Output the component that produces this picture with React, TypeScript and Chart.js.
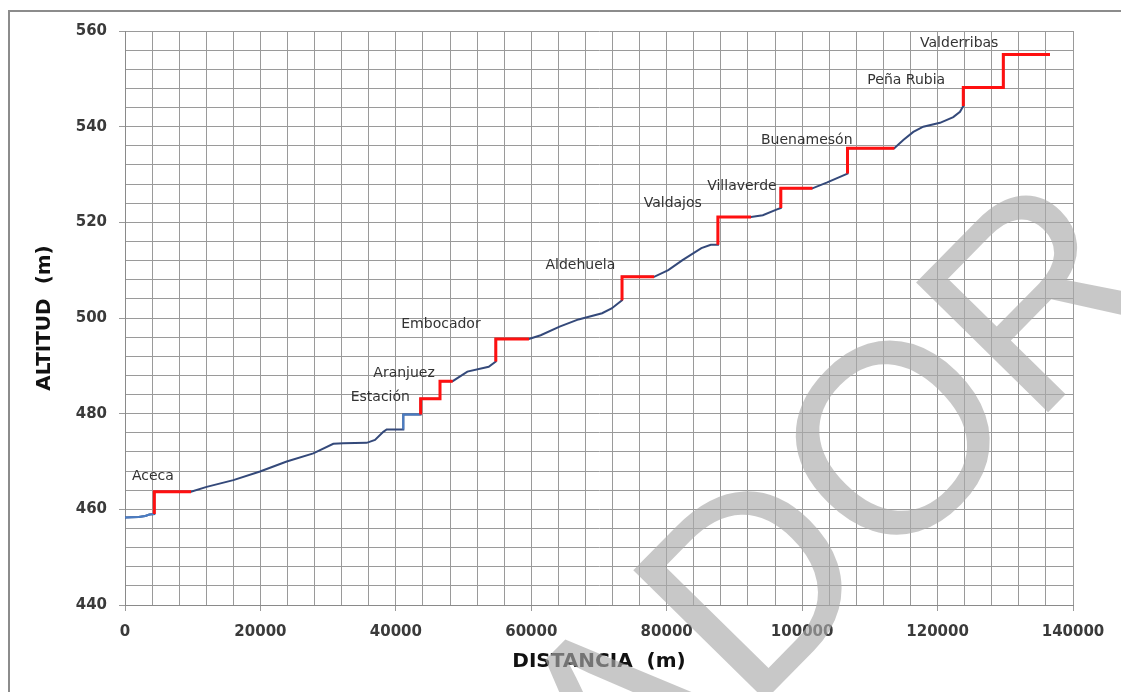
import React, { useEffect, useRef } from "react";
import { Chart, registerables } from "chart.js";

Chart.register(...registerables);

// Full altitude profile (distance in m, altitude in m)
const profileDist = [
  0, 2000, 3000, 3600, 4330, 4330, 9750, 12060, 16000, 19940, 23880, 27810,
  30760, 32240, 35690, 36920, 38150, 38640, 41100, 41100, 43660, 43660, 46520,
  46520, 48390, 50560, 53710, 54760, 54760, 59650, 61390, 64180, 66970, 70460,
  71860, 73400, 73400, 78140, 80230, 82330, 85120, 86510, 87560, 87560, 92450,
  94190, 96290, 96850, 96850, 101520, 103620, 105590, 106700, 106700, 113610,
  114940, 116420, 117890, 120360, 122320, 123310, 123800, 123800, 129710,
  129710, 136600,
];
const profileAlt = [
  458.3, 458.4, 458.6, 458.9, 459.0, 463.7, 463.7, 464.7, 466.1, 467.9, 470.0,
  471.7, 473.7, 473.8, 473.9, 474.5, 476.2, 476.7, 476.7, 479.8, 479.8, 483.1,
  483.1, 486.8, 486.8, 488.8, 489.8, 490.9, 495.6, 495.6, 496.4, 498.2, 499.7,
  501.0, 502.0, 503.7, 508.6, 508.6, 510.0, 512.1, 514.6, 515.3, 515.3, 521.1,
  521.1, 521.5, 522.7, 523.0, 527.1, 527.1, 528.3, 529.5, 530.2, 535.5, 535.5,
  537.2, 538.9, 540.0, 540.8, 542.0, 543.1, 544.3, 548.2, 548.2, 555.1, 555.1,
];

// Red step segments (null = break)
const stepDist = [
  4330, 4330, 9750, 9750,
  43660, 43660, 46520, 46520, 48390, 48390,
  54760, 54760, 59650, 59650,
  73400, 73400, 78140, 78140,
  87560, 87560, 92450, 92450,
  96850, 96850, 101520, 101520,
  106700, 106700, 113610, 113610,
  123800, 123800, 129710, 129710, 136600,
];
const stepAlt = [
  459.0, 463.7, 463.7, null,
  479.8, 483.1, 483.1, 486.8, 486.8, null,
  490.9, 495.6, 495.6, null,
  503.7, 508.6, 508.6, null,
  515.3, 521.1, 521.1, null,
  523.0, 527.1, 527.1, null,
  530.2, 535.5, 535.5, null,
  544.3, 548.2, 548.2, 555.1, 555.1,
];

// Light-blue pieces
const lightDist = [0, 2000, 3000, 3600, 4330, 4330, 41100, 41100, 43660];
const lightAlt = [458.3, 458.4, 458.6, 458.9, 459.0, null, 476.7, 479.8, 479.8];

// Station labels (left edge / vertical centre of text, in data units)
const stationNames = [
  "Aceca", "Estación", "Aranjuez", "Embocador", "Aldehuela", "Valdajos",
  "Villaverde", "Buenamesón", "Peña Rubia", "Valderribas",
];
const stationDist = [1030, 33330, 36670, 40800, 62100, 76600, 85980, 93920, 109630, 117410];
const stationAlt = [466.9, 483.5, 488.5, 498.7, 511.0, 523.9, 527.6, 537.2, 549.6, 557.4];

const xMin = 0, xMax = 140000, xStep = 4000, xLabelEvery = 20000;
const yMin = 440, yMax = 560, yStep = 4, yLabelEvery = 20;

const watermarkText = "BORRADOR";

const toPoints = (xs: number[], ys: (number | null)[]) =>
  xs.map((x, i) => ({ x, y: ys[i] }));

const stationPlugin = {
  id: "stations",
  afterDatasetsDraw(chart: any) {
    const { ctx, scales } = chart;
    ctx.save();
    ctx.font = '14px "DejaVu Sans"';
    ctx.fillStyle = "#333333";
    ctx.textAlign = "left";
    ctx.textBaseline = "middle";
    stationNames.forEach((n, i) => {
      ctx.fillText(n, scales.x.getPixelForValue(stationDist[i]), scales.y.getPixelForValue(stationAlt[i]));
    });
    ctx.restore();
  },
};

const watermarkPlugin = {
  id: "watermark",
  afterDraw(chart: any) {
    const { ctx } = chart;
    const em = 269;
    ctx.save();
    ctx.font = `${em}px "Liberation Sans"`;
    ctx.fillStyle = "rgba(170,170,170,0.65)";
    ctx.textAlign = "left";
    ctx.textBaseline = "alphabetic";
    ctx.translate(630, 569);
    ctx.rotate((-45.5 * Math.PI) / 180);
    const pre = ctx.measureText("BORRA").width;
    ctx.fillText(watermarkText, -(pre + 0.077 * em), 0.7 * em);
    ctx.restore();
  },
};

export default function App() {
  const ref = useRef<HTMLCanvasElement | null>(null);
  useEffect(() => {
    if (!ref.current) return;
    const gridColor = "#9a9a9a";
    const chart = new Chart(ref.current, {
      type: "line",
      data: {
        datasets: [
          {
            data: toPoints(stepDist, stepAlt),
            borderColor: "#ff1010",
            borderWidth: 3,
            pointRadius: 0,
            spanGaps: false,
            tension: 0,
          },
          {
            data: toPoints(lightDist, lightAlt),
            borderColor: "#4a7dc4",
            borderWidth: 2,
            pointRadius: 0,
            spanGaps: false,
            tension: 0,
          },
          {
            data: toPoints(profileDist, profileAlt),
            borderColor: "#34497a",
            borderWidth: 2,
            pointRadius: 0,
            tension: 0,
          },
        ],
      },
      options: {
        animation: false,
        responsive: false,
        events: [],
        layout: { padding: { left: 20, right: 48, top: 31, bottom: 0 } },
        plugins: { legend: { display: false }, tooltip: { enabled: false } },
        scales: {
          x: {
            type: "linear",
            min: xMin,
            max: xMax,
            afterFit: (s: any) => { s.height = 87; },
            ticks: {
              stepSize: xStep,
              autoSkip: false,
              maxRotation: 0,
              maxTicksLimit: 200,
              padding: 12,
              color: "#3a3a3a",
              font: { family: '"DejaVu Sans"', size: 15, weight: "bold" },
              callback: (v: any) => (Number(v) % xLabelEvery === 0 ? String(v) : ""),
            },
            grid: {
              color: gridColor,
              lineWidth: 1,
              tickLength: 6,
              tickColor: (c: any) => (c.tick && c.tick.value % xLabelEvery === 0 ? gridColor : "rgba(0,0,0,0)"),
            },
            border: { color: "#8a8a8a", width: 1 },
            title: {
              display: true,
              text: "DISTANCIA  (m)",
              color: "#111111",
              font: { family: '"DejaVu Sans"', size: 20, weight: "bold" },
              padding: { top: 0, bottom: 18 },
            },
          },
          y: {
            type: "linear",
            min: yMin,
            max: yMax,
            afterFit: (s: any) => { s.width = 105; },
            ticks: {
              stepSize: yStep,
              autoSkip: false,
              maxTicksLimit: 200,
              padding: 12,
              color: "#3a3a3a",
              font: { family: '"DejaVu Sans"', size: 15, weight: "bold" },
              callback: (v: any) => (Number(v) % yLabelEvery === 0 ? String(v) : ""),
            },
            grid: {
              color: gridColor,
              lineWidth: 1,
              tickLength: 6,
              tickColor: (c: any) => (c.tick && c.tick.value % yLabelEvery === 0 ? gridColor : "rgba(0,0,0,0)"),
            },
            border: { color: "#8a8a8a", width: 1 },
            title: {
              display: true,
              text: "ALTITUD  (m)",
              color: "#111111",
              font: { family: '"DejaVu Sans"', size: 20, weight: "bold" },
              padding: { top: 13, bottom: 0 },
            },
          },
        },
      },
      plugins: [stationPlugin, watermarkPlugin],
    } as any);
    return () => chart.destroy();
  }, []);

  return (
    <div
      style={{
        position: "fixed",
        left: 0,
        top: 0,
        width: 1121,
        height: 692,
        overflow: "hidden",
        background: "#ffffff",
      }}
    >
      <div
        style={{
          position: "absolute",
          left: 8,
          top: 10,
          width: 1200,
          height: 800,
          border: "2px solid #8c8c8c",
        }}
      />
      <canvas
        ref={ref}
        width={1121}
        height={692}
        style={{ position: "absolute", left: 0, top: 0, width: 1121, height: 692 }}
      />
    </div>
  );
}
